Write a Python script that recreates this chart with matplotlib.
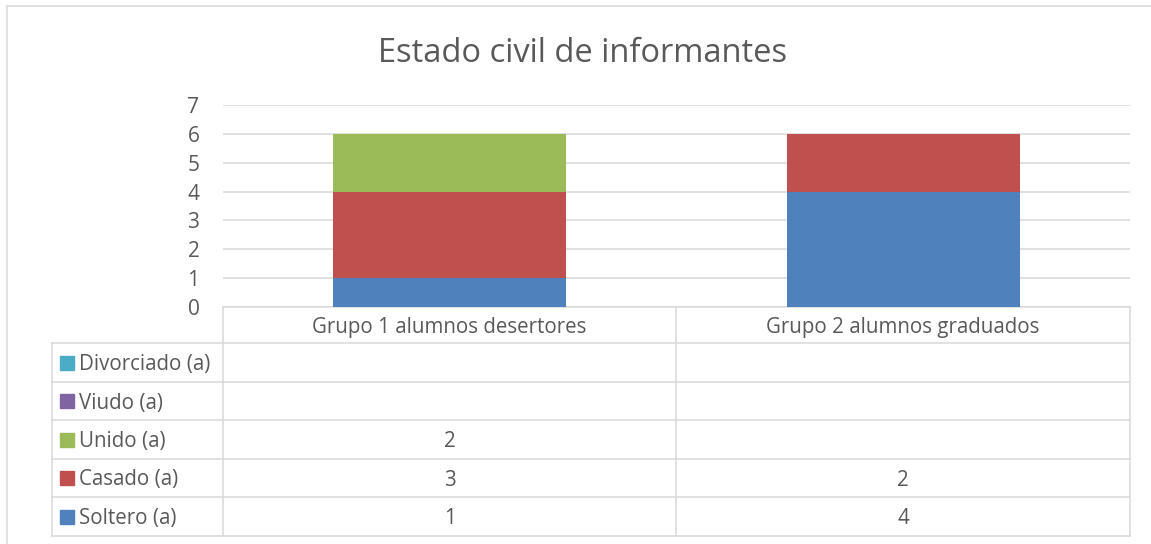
"""Estado civil de informantes: stacked columns with an Excel-style data table."""

import matplotlib.pyplot as plt
import numpy as np
from matplotlib.lines import Line2D
from matplotlib.patches import Rectangle

W, H = 1151, 544

CATEGORIES = ["Grupo 1 alumnos desertores", "Grupo 2 alumnos graduados"]
SERIES = ["Soltero (a)", "Casado (a)", "Unido (a)", "Viudo (a)", "Divorciado (a)"]
SOLTERO = [1, 4]
CASADO = [3, 2]
UNIDO = [2, 0]
VIUDO = [0, 0]
DIVORCIADO = [0, 0]
COLORS = ["#4F81BD", "#C0504D", "#9BBB59", "#8064A2", "#4BACC6"]

TEXT = "#595959"
GRID = "#D9D9D9"
FONT = "Open Sans"


def fx(px):
    return px / W


def fy(py):
    return 1 - py / H


def hline(fig, x0, x1, y):
    fig.add_artist(Line2D([fx(x0), fx(x1)], [fy(y), fy(y)], color=GRID, lw=1.1,
                          transform=fig.transFigure))


def vline(fig, x, y0, y1):
    fig.add_artist(Line2D([fx(x), fx(x)], [fy(y0), fy(y1)], color=GRID, lw=1.1,
                          transform=fig.transFigure))


def main() -> None:
    plt.rcParams["font.family"] = [FONT, "DejaVu Sans"]
    values = [SOLTERO, CASADO, UNIDO, VIUDO, DIVORCIADO]

    fig = plt.figure(figsize=(W / 100, H / 100), dpi=100)
    left, right, top, bottom = 223, 1130, 105, 307
    ax = fig.add_axes([fx(left), fy(bottom), fx(right - left), fy(top) - fy(bottom)])

    x = np.arange(len(CATEGORIES))
    base = np.zeros(len(CATEGORIES))
    for name, vals, col in zip(SERIES, values, COLORS):
        ax.bar(x, vals, 0.514, bottom=base, color=col, label=name, zorder=3)
        base += np.array(vals)

    ax.set_xlim(-0.5, len(CATEGORIES) - 0.5)
    ax.set_ylim(0, 7)
    ax.set_yticks(range(0, 8))
    ax.set_xticks([])
    ax.grid(axis="y", color=GRID, lw=1.1, zorder=0)
    for s in ("top", "right", "left"):
        ax.spines[s].set_visible(False)
    ax.spines["bottom"].set_color(GRID)
    ax.spines["bottom"].set_linewidth(1.1)
    ax.tick_params(axis="y", length=0, labelsize=15, labelcolor=TEXT, pad=17)

    # chart border
    hline(fig, 7, W, 6)
    vline(fig, 7, 6, H)

    fig.text(fx(583), fy(53), "Estado civil de informantes", ha="center", va="center",
             fontsize=23.5, color=TEXT)

    # data table
    col_x = [left, 676, right]
    row_y = [343, 382, 420, 459, 497, 536]
    label_x = 52
    for cx in col_x:
        vline(fig, cx, bottom, row_y[-1])
    vline(fig, label_x, row_y[0], row_y[-1])
    for ry in row_y:
        hline(fig, label_x, right, ry)

    dy = 2  # nudge text down to sit like the original
    centers = [(col_x[i] + col_x[i + 1]) / 2 for i in range(len(CATEGORIES))]
    for cxm, cat in zip(centers, CATEGORIES):
        fig.text(fx(cxm), fy((bottom + row_y[0]) / 2 + dy), cat, ha="center", va="center",
                 fontsize=14.8, color=TEXT)

    rows = list(zip(SERIES, values, COLORS))[::-1]
    for i, (name, vals, col) in enumerate(rows):
        yc = (row_y[i] + row_y[i + 1]) / 2
        fig.add_artist(Rectangle((fx(60), fy(yc + 7)), fx(14), fy(yc - 7) - fy(yc + 7),
                                 color=col, transform=fig.transFigure))
        fig.text(fx(79), fy(yc + dy), name, ha="left", va="center", fontsize=14.8, color=TEXT)
        for cxm, v in zip(centers, vals):
            if v:
                fig.text(fx(cxm), fy(yc + dy), str(v), ha="center", va="center",
                         fontsize=14.8, color=TEXT)

    fig.savefig("out.png", dpi=100)
    plt.close(fig)


if __name__ == "__main__":
    main()
